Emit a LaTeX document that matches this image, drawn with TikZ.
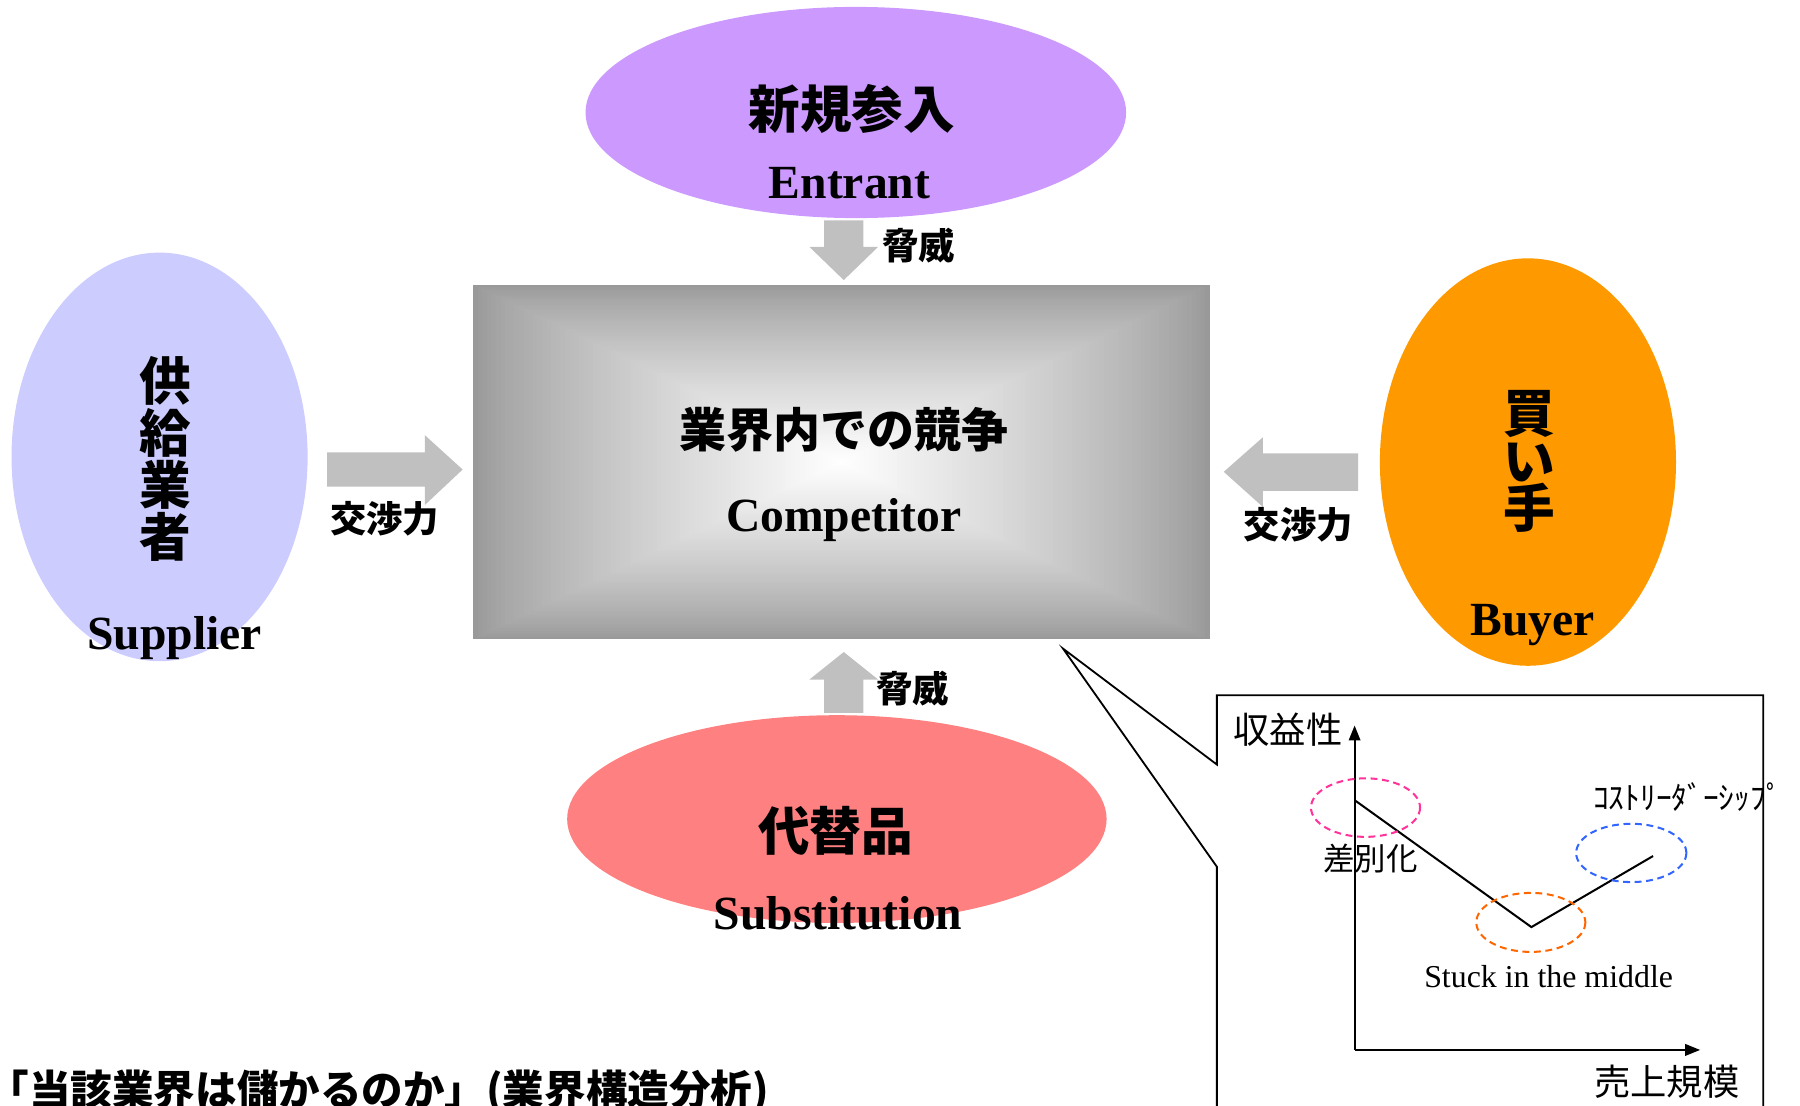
\documentclass[tikz,border=0pt]{standalone}
\usepackage{fontspec}
\setmainfont{Liberation Serif}
\newfontfamily\jp{Noto Sans CJK JP}
\usetikzlibrary{arrows.meta,shapes.geometric}
\definecolor{entrantc}{HTML}{CC99FF}
\definecolor{supplierc}{HTML}{CCCCFF}
\definecolor{buyerc}{HTML}{FF9900}
\definecolor{substc}{HTML}{FF8080}
\definecolor{arrowc}{HTML}{C0C0C0}
\definecolor{boxgray}{HTML}{999999}
\definecolor{pinkc}{HTML}{FF3399}
\definecolor{orangec}{HTML}{FF6600}
\definecolor{bluec}{HTML}{3366FF}
\begin{document}
\begin{tikzpicture}[x=0.02cm,y=-0.02cm,
  blob/.style={ellipse,inner sep=0pt,draw=none},
  jpbig/.style={font=\jp\bfseries\fontsize{25.6}{30}\selectfont,inner sep=0pt},
  jpmid/.style={font=\jp\bfseries\fontsize{23.3}{28}\selectfont,inner sep=0pt},
  jplbl/.style={font=\jp\bfseries\fontsize{18}{22}\selectfont,inner sep=0pt},
  jpaxis/.style={font=\jp\fontsize{18}{22}\selectfont,inner sep=0pt},
  jpsmall/.style={font=\jp\fontsize{15.6}{19}\selectfont,inner sep=0pt},
  entext/.style={font=\bfseries\fontsize{23.6}{28}\selectfont,inner sep=0pt,anchor=base},
  blockarrow/.style={fill=arrowc,draw=none},
  dashring/.style={line width=1pt,dash pattern=on 3.4pt off 2.3pt},
  axis/.style={line width=1pt,-{Triangle[length=0.26cm,width=0.2cm]}}]
\useasboundingbox (0,0) rectangle (1568,963);
\clip (0,0) rectangle (1568,963);

% central box with rectangular gradient
\fill[boxgray] (412,248) rectangle (1054,557);
\foreach \i in {1,...,80}{
  \pgfmathsetmacro{\s}{1-\i/80}
  \pgfmathsetmacro{\p}{100*(\i/80)^0.8}
  \fill[white!\p!boxgray] ({733-\s*321},{402.5-\s*154.5}) rectangle ({733+\s*321},{402.5+\s*154.5});
}
\node[minimum width=12.84cm,minimum height=6.18cm,inner sep=0pt] (box) at (733,402.5) {};
\node[jpmid] (boxJ) at (735,374.6) {業界内での競争};
\node[entext] (boxE) at (735,463) {Competitor};

% entrant
\node[blob,fill=entrantc,minimum width=9.42cm,minimum height=3.68cm] (entrant) at (745.5,98) {};
\node[jpbig] (entrantJ) at (742,95) {新規参入};
\node[entext] (entrantE) at (740,172.6) {Entrant};

% supplier
\node[blob,fill=supplierc,minimum width=5.16cm,minimum height=7.12cm] (supplier) at (139,398) {};
\node[jpbig,align=center,font=\jp\bfseries\fontsize{25.6}{25.8}\selectfont] (supplierJ) at (144,399.5) {供\\給\\業\\者};
\node[entext] (supplierE) at (152,566) {Supplier};

% buyer
\node[blob,fill=buyerc,minimum width=5.16cm,minimum height=7.1cm] (buyer) at (1331,402.5) {};
\node[jpbig,align=center,font=\jp\bfseries\fontsize{25.6}{23.6}\selectfont] (buyerJ) at (1332,402) {買\\い\\手};
\node[entext] (buyerE) at (1335,554) {Buyer};

% substitution
\node[blob,fill=substc,minimum width=9.4cm,minimum height=3.62cm] (subst) at (729,713.5) {};
\node[jpbig] (substJ) at (728,724) {代替品};
\node[entext] (substE) at (730,810) {Substitution};

% block arrows
\fill[blockarrow] (718,192) -- (752,192) -- (752,215) -- (765,215) -- (735,244) -- (705,215) -- (718,215) -- cycle;
\node[jplbl] (threat1) at (800,214) {脅威};
\fill[blockarrow] (718,621) -- (752,621) -- (752,592) -- (765,592) -- (735,568) -- (705,592) -- (718,592) -- cycle;
\node[jplbl] (threat2) at (795,600) {脅威};
\fill[blockarrow] (285,394) -- (370,394) -- (370,379) -- (403,409) -- (370,440) -- (370,424) -- (285,424) -- cycle;
\node[jplbl] (barg1) at (335,452) {交渉力};
\fill[blockarrow] (1183,395) -- (1100,395) -- (1100,381) -- (1066,411) -- (1100,441.5) -- (1100,427.5) -- (1183,427.5) -- cycle;
\node[jplbl] (barg2) at (1131,457) {交渉力};

% callout
\coordinate (tipc) at (926,565);
\draw[line width=0.9pt,line join=miter] (1060,990) -- (1060,755) -- (tipc) -- (1060,666) -- (1060,605.6) -- (1536,605.6) -- (1536,990);

% graph
\coordinate (O) at (1180,914.6);
\coordinate (ytop) at (1180,632);
\coordinate (xend) at (1481,914.6);
\draw[axis] (O) -- (ytop);
\draw[axis] (O) -- (xend);
\node[jpaxis] (ylbl) at (1122,636) {収益性};
\node[jpaxis] (xlbl) at (1452,942) {売上規模};
\coordinate (p1) at (1180,697);
\coordinate (p2) at (1334,807.6);
\coordinate (p3) at (1440,745.7);
\draw[line width=1pt] (p1) -- (p2) -- (p3);
\draw[dashring,draw=pinkc] (1189.5,703.5) ellipse [x radius=47.5,y radius=25.5];
\draw[dashring,draw=orangec] (1333.5,803.5) ellipse [x radius=47.5,y radius=25.7];
\draw[dashring,draw=bluec] (1421,743) ellipse [x radius=48,y radius=25.4];
\node[jpsmall] (diff) at (1194,748) {差別化};
\node[jpsmall] (cost) at (1470,694) {ｺｽﾄﾘｰﾀﾞｰｼｯﾌﾟ};
\node[font=\fontsize{15.8}{19}\selectfont,inner sep=0pt,anchor=base] (stuck) at (1349,860) {Stuck in the middle};

% title
\node[font=\jp\bfseries\fontsize{20.6}{24}\selectfont,inner sep=0pt,anchor=west] (title) at (-11,951) {「当該業界は儲かるのか」(業界構造分析)};
\end{tikzpicture}
\end{document}
